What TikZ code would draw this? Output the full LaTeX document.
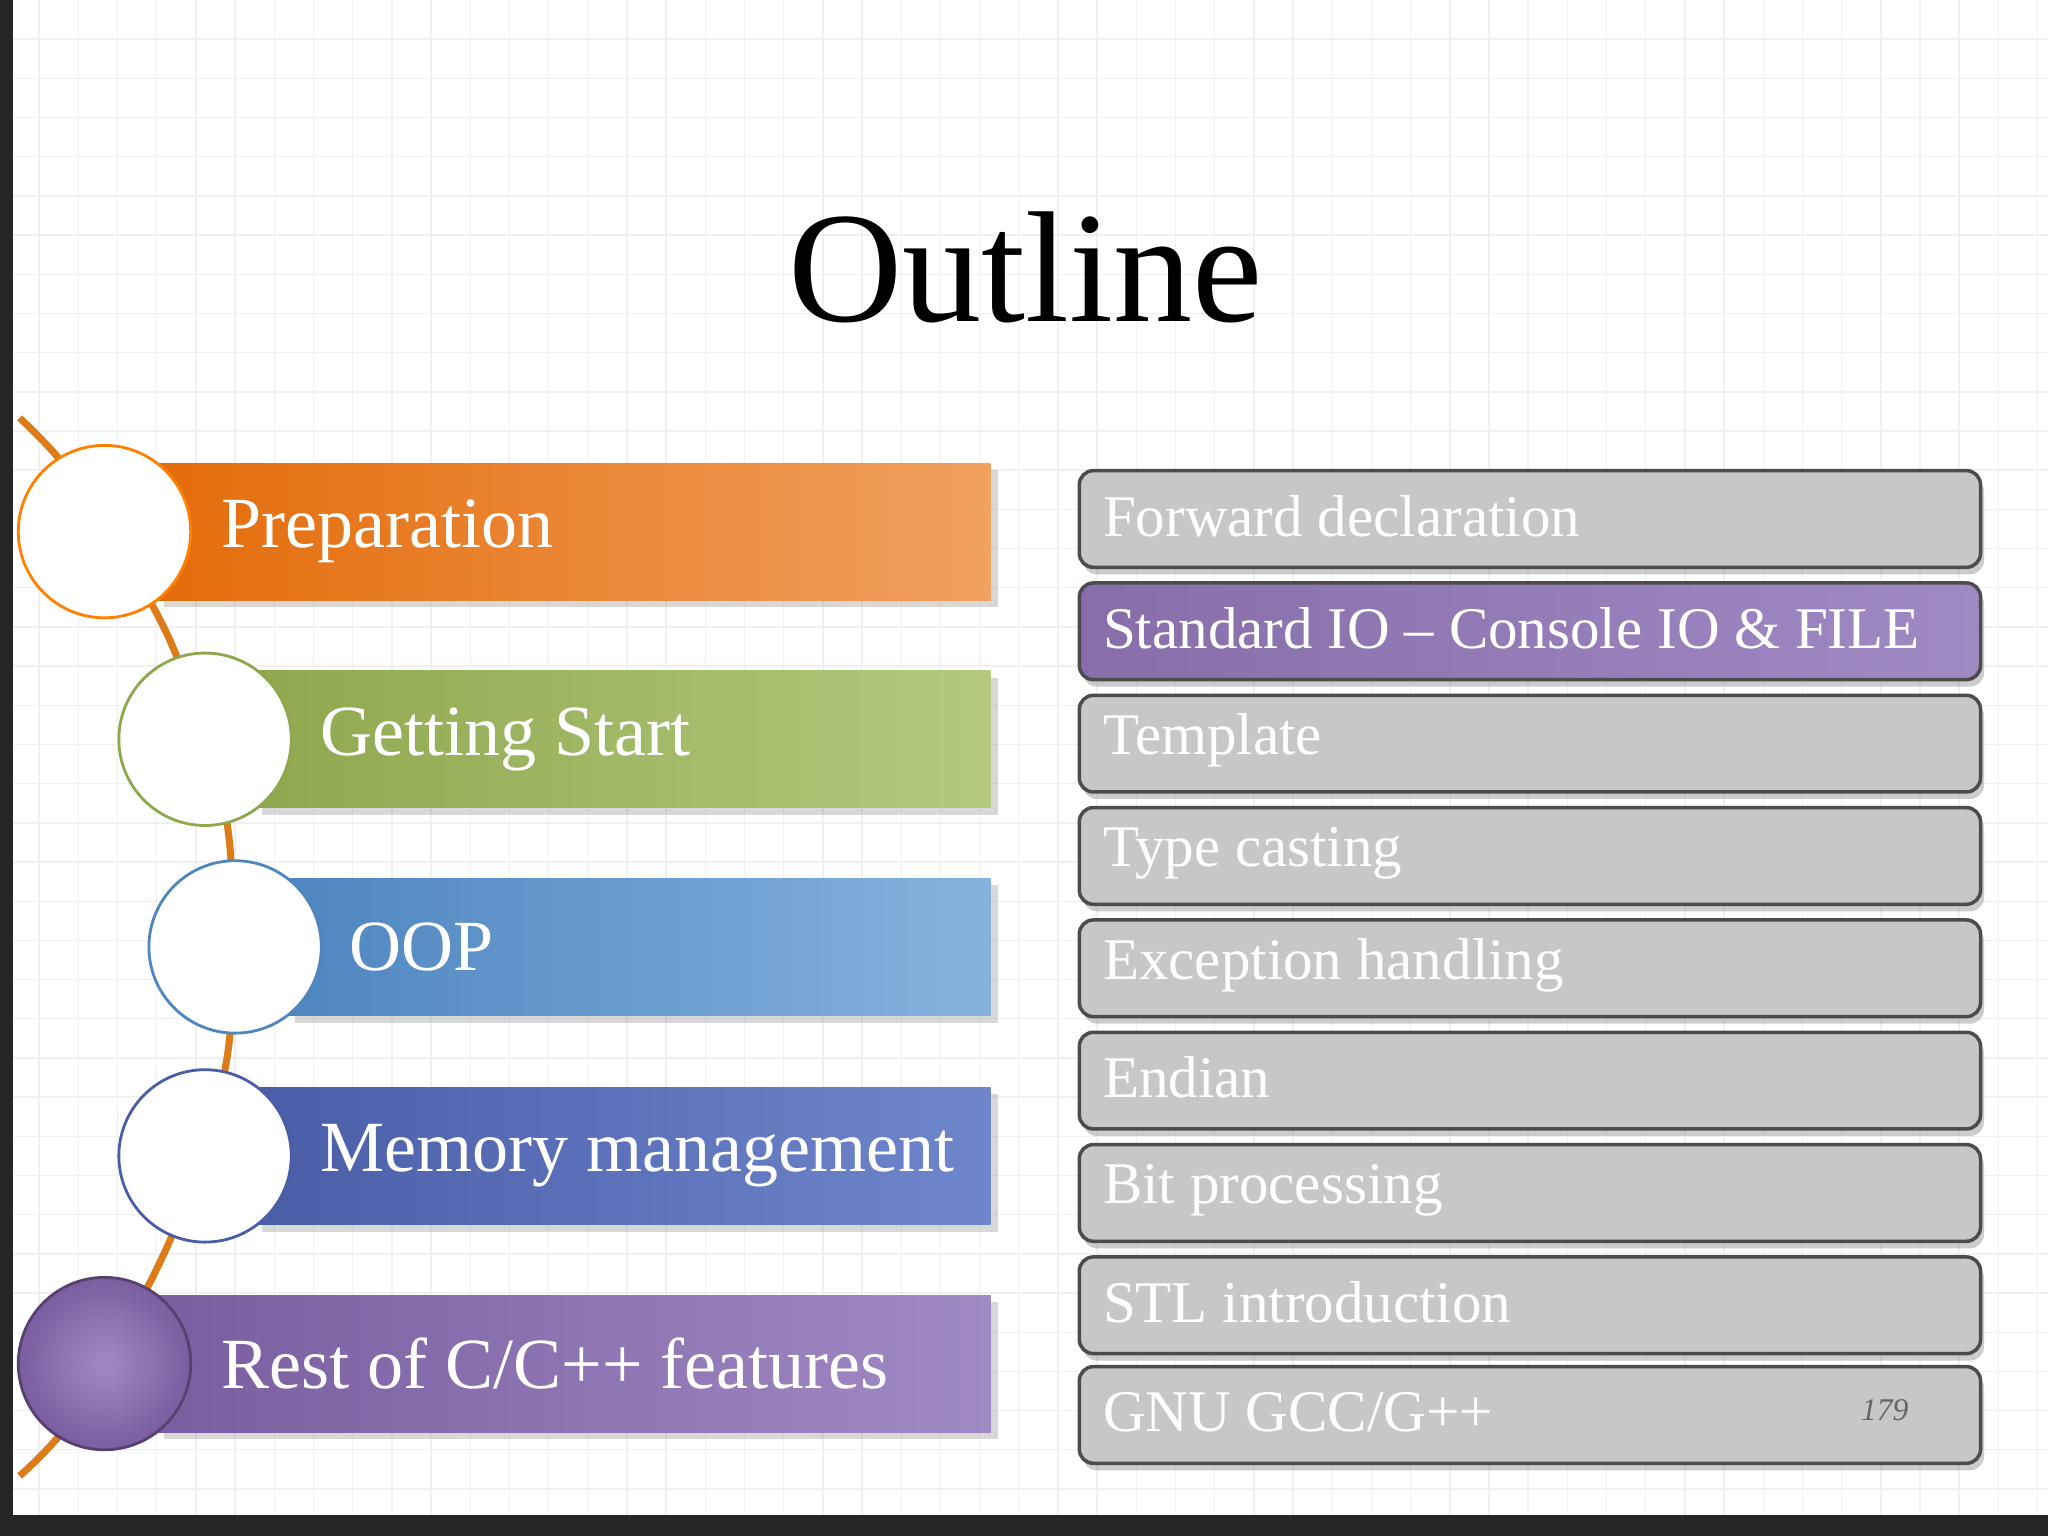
\documentclass[tikz,border=0pt]{standalone}
\usepackage{fontspec}
\setmainfont{Liberation Serif}
\usetikzlibrary{shadows}
\definecolor{org}{HTML}{E46C0A}\definecolor{orgl}{HTML}{F0A060}
\definecolor{grn}{HTML}{8FA84E}\definecolor{grnl}{HTML}{B3C97E}
\definecolor{blu}{HTML}{4F86C0}\definecolor{blul}{HTML}{86B2DE}
\definecolor{dbl}{HTML}{4A5EA8}\definecolor{dbll}{HTML}{6F86CC}
\definecolor{pur}{HTML}{7A5EA0}\definecolor{purl}{HTML}{A08AC4}
\definecolor{gbox}{HTML}{C8C6C8}
\tikzset{
 bar/.style={minimum height=105*0.01306cm, anchor=west, inner sep=0pt, drop shadow={shadow xshift=2pt,shadow yshift=-2pt,opacity=.3}},
 circ/.style={circle, minimum size=132*0.01306cm, fill=white, draw=#1, line width=0.8pt},
 lbl/.style={text=white, font=\fontsize{20.5}{24}\selectfont, anchor=west},
 rbox/.style={rounded corners=4pt, draw=black!70, line width=1pt, fill=gbox, minimum width=690*0.01306cm, minimum height=74*0.01306cm, anchor=north west, drop shadow={shadow xshift=1pt,shadow yshift=-2pt,opacity=.4}},
 rlbl/.style={text=white, font=\fontsize{16.8}{20}\selectfont, anchor=west}
}
\begin{document}
\begin{tikzpicture}[x=0.01306cm,y=-0.01306cm]
\useasboundingbox (0,0) rectangle (1568,1176);
\fill[black!85] (0,0) rectangle (1568,1176);
\fill[white] (10,0) rectangle (1568,1160);
\foreach \gx in {30,60,...,1560} \draw[black!6, line width=0.4pt] (\gx,0) -- (\gx,1160);
\foreach \gy in {30,60,...,1150} \draw[black!6, line width=0.4pt] (10,\gy) -- (1568,\gy);
\node (title) at (785,205) {\fontsize{45}{50}\selectfont Outline};
\draw[orange!85!black!90, line width=2pt] plot[smooth] coordinates {(15,320) (60,370) (130,490) (172,620) (178,720) (172,820) (130,950) (60,1080) (15,1130)};
\foreach \n/\xa/\y/\c/\cl in {b1/120/407/org/orgl, b2/195/566/grn/grnl, b3/220/725/blu/blul, b4/195/885/dbl/dbll, b5/120/1044/pur/purl}{
 \node[bar, minimum width={(758-\xa)*0.01306cm}, left color=\c, right color=\cl] (\n) at (\xa,\y) {};
}
\node[circ=orange] (c1) at (80,407) {};
\node[circ=grn] (c2) at (157,566) {};
\node[circ=blu] (c3) at (180,725) {};
\node[circ=dbl] (c4) at (157,885) {};
\node[circle, minimum size=132*0.01306cm, draw=pur!70!black, line width=0.8pt, inner color=purl, outer color=pur] (c5) at (80,1044) {};
\node[lbl] (t1) at (160,407) {Preparation};
\node[lbl] (t2) at (236,566) {Getting Start};
\node[lbl] (t3) at (258,725) {OOP};
\node[lbl] (t4) at (236,885) {Memory management};
\node[lbl] (t5) at (160,1044) {Rest of C/C++ features};
\foreach \i/\y/\t in {1/359/{Forward declaration}, 3/531/{Template}, 4/617/{Type casting}, 5/703/{Exception handling}, 6/789/{Endian}, 7/875/{Bit processing}, 8/961/{STL introduction}, 9/1045/{GNU GCC/G++}}{
 \node[rbox] (r\i) at (825,\y) {};
 \node[rlbl] (rt\i) at (835,\y+36) {\t};
}
\node[rbox, left color=pur!90, right color=purl] (r2) at (825,445) {};
\node[rlbl] (rt2) at (835,481) {Standard IO – Console IO \& FILE};
\node[text=black!60, font=\itshape\fontsize{9}{10}\selectfont] (pg) at (1443,1080) {179};
\end{tikzpicture}
\end{document}
